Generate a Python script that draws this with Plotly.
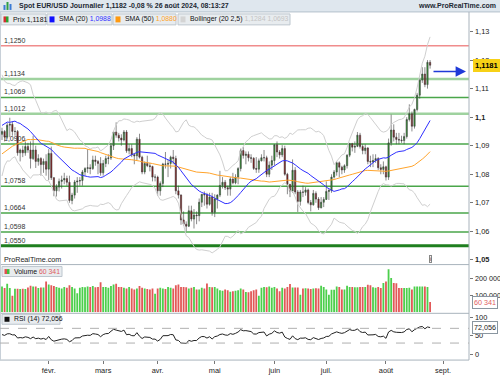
import plotly.graph_objects as go
import pandas as pd

W, H = 500, 375
FONT = "Liberation Sans, Arial, sans-serif"

# ---------------- data ----------------
# closes before the visible window (used only to seed the indicators)
pre_closes = [1.0565, 1.0615, 1.0575, 1.0570, 1.0620, 1.0728, 1.0720, 1.0700, 1.0710, 1.0667,
              1.0685, 1.0700, 1.0880, 1.0848, 1.0850, 1.0913, 1.0940, 1.0908, 1.0888, 1.0903,
              1.0940, 1.0955, 1.0995, 1.0970, 1.0888, 1.0883, 1.0835, 1.0797, 1.0765, 1.0790,
              1.0760, 1.0763, 1.0795, 1.0875, 1.0990, 1.0895, 1.0923, 1.0980, 1.0943, 1.1010,
              1.1012, 1.1020, 1.1040, 1.1105, 1.1060, 1.1038, 1.1040, 1.0940, 1.0922, 1.0945,
              1.0940]

dates = pd.bdate_range("2024-01-08", "2024-08-26")

opens = [
    # Jan
    1.0940, 1.0950, 1.0930, 1.0972, 1.0975, 1.0950, 1.0950, 1.0875, 1.0885, 1.0875,
    1.0897, 1.0885, 1.0855, 1.0885, 1.0845, 1.0855, 1.0834, 1.0845,
    # Feb
    1.0818, 1.0873, 1.0788, 1.0742, 1.0755, 1.0775, 1.0780, 1.0785, 1.0772, 1.0708,
    1.0727, 1.0773, 1.0776, 1.0778, 1.0808, 1.0820, 1.0823, 1.0820, 1.0850, 1.0845, 1.0838,
    # Mar
    1.0805, 1.0838, 1.0855, 1.0857, 1.0900, 1.0948, 1.0937, 1.0927, 1.0920, 1.0948,
    1.0882, 1.0890, 1.0868, 1.0865, 1.0923, 1.0860, 1.0808, 1.0838, 1.0830, 1.0827, 1.0790,
    # Apr
    1.0790, 1.0742, 1.0768, 1.0836, 1.0835, 1.0838, 1.0860, 1.0855, 1.0742, 1.0727,
    1.0640, 1.0625, 1.0618, 1.0672, 1.0643, 1.0657, 1.0655, 1.0702, 1.0730, 1.0728, 1.0695, 1.0720,
    # May
    1.0667, 1.0713, 1.0727, 1.0761, 1.0772, 1.0753, 1.0748, 1.0783, 1.0770, 1.0790,
    1.0820, 1.0883, 1.0866, 1.0870, 1.0858, 1.0856, 1.0820, 1.0818, 1.0847, 1.0858, 1.0858, 1.0800, 1.0832,
    # Jun
    1.0848, 1.0903, 1.0878, 1.0868, 1.0890, 1.0800, 1.0765, 1.0741, 1.0814, 1.0738,
    1.0705, 1.0738, 1.0737, 1.0745, 1.0701, 1.0693, 1.0733, 1.0713, 1.0683, 1.0702,
    # Jul
    1.0712, 1.0740, 1.0743, 1.0790, 1.0808, 1.0840, 1.0825, 1.0815, 1.0830, 1.0867,
    1.0907, 1.0895, 1.0898, 1.0937, 1.0897, 1.0883, 1.0892, 1.0845, 1.0843, 1.0848, 1.0855, 1.0823, 1.0817,
    # Aug
    1.0826, 1.0790, 1.0910, 1.0955, 1.0930, 1.0922, 1.0920, 1.0918, 1.0932, 1.0992,
    1.1012, 1.0968, 1.1027, 1.1077, 1.1130, 1.1151, 1.1114, 1.1192]

highs = [
    1.0963, 1.0955, 1.0980, 1.0998, 1.0985, 1.0965, 1.0955, 1.0890, 1.0900, 1.0915,
    1.0910, 1.0915, 1.0935, 1.0900, 1.0870, 1.0860, 1.0855, 1.0870,
    1.0888, 1.0897, 1.0790, 1.0765, 1.0785, 1.0795, 1.0805, 1.0795, 1.0795, 1.0735,
    1.0780, 1.0790, 1.0790, 1.0815, 1.0825, 1.0888, 1.0835, 1.0865, 1.0865, 1.0850, 1.0860,
    1.0850, 1.0865, 1.0870, 1.0910, 1.0950, 1.0982, 1.0945, 1.0940, 1.0955, 1.0955,
    1.0905, 1.0905, 1.0875, 1.0930, 1.0942, 1.0865, 1.0845, 1.0865, 1.0840, 1.0830, 1.0800,
    1.0795, 1.0775, 1.0840, 1.0878, 1.0850, 1.0865, 1.0885, 1.0865, 1.0760, 1.0730,
    1.0670, 1.0635, 1.0690, 1.0690, 1.0678, 1.0670, 1.0715, 1.0730, 1.0740, 1.0735, 1.0735, 1.0735,
    1.0730, 1.0730, 1.0812, 1.0790, 1.0780, 1.0760, 1.0790, 1.0805, 1.0800, 1.0825,
    1.0890, 1.0895, 1.0880, 1.0880, 1.0870, 1.0860, 1.0860, 1.0855, 1.0870, 1.0885, 1.0865, 1.0845, 1.0865,
    1.0905, 1.0915, 1.0885, 1.0902, 1.0900, 1.0805, 1.0765, 1.0852, 1.0825, 1.0745,
    1.0745, 1.0760, 1.0755, 1.0750, 1.0710, 1.0745, 1.0740, 1.0720, 1.0720, 1.0720,
    1.0775, 1.0750, 1.0800, 1.0815, 1.0845, 1.0845, 1.0830, 1.0835, 1.0870, 1.0910,
    1.0910, 1.0915, 1.0948, 1.0945, 1.0905, 1.0905, 1.0895, 1.0865, 1.0870, 1.0870, 1.0860, 1.0835, 1.0845,
    1.0830, 1.0925, 1.1009, 1.0975, 1.0945, 1.0945, 1.0935, 1.0945, 1.1000, 1.1045,
    1.1020, 1.1030, 1.1085, 1.1135, 1.1175, 1.1175, 1.1200, 1.1200]

lows = [
    1.0920, 1.0915, 1.0922, 1.0930, 1.0935, 1.0935, 1.0865, 1.0845, 1.0860, 1.0865,
    1.0875, 1.0820, 1.0850, 1.0822, 1.0830, 1.0795, 1.0805, 1.0795,
    1.0780, 1.0780, 1.0723, 1.0722, 1.0740, 1.0750, 1.0765, 1.0760, 1.0700, 1.0695,
    1.0715, 1.0735, 1.0760, 1.0760, 1.0795, 1.0805, 1.0800, 1.0815, 1.0830, 1.0800, 1.0795,
    1.0795, 1.0825, 1.0835, 1.0850, 1.0885, 1.0928, 1.0915, 1.0900, 1.0915, 1.0875,
    1.0870, 1.0860, 1.0835, 1.0850, 1.0855, 1.0800, 1.0800, 1.0825, 1.0810, 1.0775, 1.0775,
    1.0725, 1.0725, 1.0755, 1.0820, 1.0790, 1.0820, 1.0835, 1.0730, 1.0715, 1.0623,
    1.0620, 1.0601, 1.0615, 1.0635, 1.0610, 1.0625, 1.0635, 1.0685, 1.0690, 1.0680, 1.0690, 1.0655,
    1.0650, 1.0680, 1.0720, 1.0750, 1.0745, 1.0725, 1.0725, 1.0765, 1.0765, 1.0765,
    1.0810, 1.0855, 1.0835, 1.0845, 1.0840, 1.0815, 1.0805, 1.0805, 1.0845, 1.0845, 1.0790, 1.0790, 1.0815,
    1.0830, 1.0860, 1.0855, 1.0860, 1.0795, 1.0730, 1.0720, 1.0735, 1.0730, 1.0668,
    1.0690, 1.0720, 1.0725, 1.0695, 1.0670, 1.0690, 1.0700, 1.0675, 1.0680, 1.0685,
    1.0710, 1.0710, 1.0735, 1.0785, 1.0795, 1.0790, 1.0800, 1.0805, 1.0820, 1.0860,
    1.0880, 1.0875, 1.0895, 1.0890, 1.0870, 1.0870, 1.0835, 1.0825, 1.0825, 1.0840, 1.0815, 1.0800, 1.0800,
    1.0778, 1.0780, 1.0900, 1.0915, 1.0905, 1.0905, 1.0910, 1.0905, 1.0925, 1.0985,
    1.0950, 1.0960, 1.1020, 1.1065, 1.1120, 1.1105, 1.1100, 1.1170]

closes = [
    1.0950, 1.0930, 1.0972, 1.0975, 1.0950, 1.0950, 1.0875, 1.0885, 1.0875, 1.0897,
    1.0885, 1.0855, 1.0885, 1.0845, 1.0855, 1.0834, 1.0845, 1.0818,
    1.0873, 1.0788, 1.0742, 1.0755, 1.0775, 1.0780, 1.0785, 1.0772, 1.0708, 1.0727,
    1.0773, 1.0776, 1.0778, 1.0808, 1.0820, 1.0823, 1.0820, 1.0850, 1.0845, 1.0838, 1.0805,
    1.0838, 1.0855, 1.0857, 1.0900, 1.0948, 1.0937, 1.0927, 1.0920, 1.0948, 1.0882,
    1.0890, 1.0868, 1.0865, 1.0923, 1.0860, 1.0808, 1.0838, 1.0830, 1.0827, 1.0790, 1.0790,
    1.0742, 1.0768, 1.0836, 1.0835, 1.0838, 1.0860, 1.0855, 1.0742, 1.0727, 1.0640,
    1.0625, 1.0618, 1.0672, 1.0643, 1.0657, 1.0655, 1.0702, 1.0730, 1.0728, 1.0695, 1.0720, 1.0667,
    1.0713, 1.0727, 1.0761, 1.0772, 1.0753, 1.0748, 1.0783, 1.0770, 1.0790, 1.0820,
    1.0883, 1.0866, 1.0870, 1.0858, 1.0856, 1.0820, 1.0818, 1.0847, 1.0858, 1.0858, 1.0800, 1.0832, 1.0848,
    1.0903, 1.0878, 1.0868, 1.0890, 1.0800, 1.0765, 1.0741, 1.0814, 1.0738, 1.0705,
    1.0738, 1.0737, 1.0745, 1.0701, 1.0693, 1.0733, 1.0713, 1.0683, 1.0702, 1.0712,
    1.0740, 1.0743, 1.0790, 1.0808, 1.0840, 1.0825, 1.0815, 1.0830, 1.0867, 1.0907,
    1.0895, 1.0898, 1.0937, 1.0897, 1.0883, 1.0892, 1.0845, 1.0843, 1.0848, 1.0855, 1.0823, 1.0817, 1.0826,
    1.0790, 1.0910, 1.0955, 1.0930, 1.0922, 1.0920, 1.0918, 1.0932, 1.0992, 1.1012,
    1.0968, 1.1027, 1.1077, 1.1130, 1.1151, 1.1114, 1.1192, 1.1182]

volumes = [
    153000, 143000, 169000, 143000, 98000, 139000, 139000, 137000, 139000, 137000,
    147000, 157000, 153000, 153000, 143000, 147000, 147000, 182000, 165000, 160000,
    155000, 150000, 145000, 140000, 150000, 145000, 160000, 150000, 140000, 112000,
    145000, 150000, 148000, 152000, 150000, 155000, 148000, 150000, 178000, 150000,
    150000, 145000, 155000, 165000, 168000, 150000, 150000, 145000, 140000, 150000,
    140000, 135000, 140000, 155000, 145000, 140000, 138000, 135000, 140000, 110000,
    140000, 145000, 140000, 138000, 150000, 145000, 140000, 160000, 165000, 150000,
    150000, 148000, 140000, 145000, 150000, 135000, 135000, 145000, 140000, 170000,
    150000, 148000, 150000, 140000, 130000, 128000, 135000, 130000, 122000, 125000,
    128000, 130000, 140000, 135000, 120000, 118000, 125000, 130000, 135000, 98000,
    145000, 150000, 148000, 152000, 145000, 150000, 141000, 124000, 145000, 140000,
    150000, 167000, 147000, 147000, 147000, 104000, 140000, 142000, 140000, 138000,
    140000, 142000, 140000, 157000, 150000, 135000, 104000, 133000, 133000, 153000,
    150000, 135000, 135000, 157000, 150000, 150000, 148000, 148000, 150000, 150000,
    150000, 163000, 160000, 148000, 145000, 150000, 143000, 173000, 182000, 255000,
    202000, 173000, 172000, 143000, 143000, 143000, 143000, 145000, 135000, 153000,
    153000, 153000, 153000, 153000, 150000, 60341]

levels = [1.1250, 1.1134, 1.1069, 1.1012, 1.0906, 1.0758, 1.0664, 1.0598, 1.0550]
level_labels = ["1,1250", "1,1134", "1,1069", "1,1012", "1,0906", "1,0758", "1,0664", "1,0598", "1,0550"]
level_colors = ["#f08c8c", "#9fd29f", "#4aa64a", "#9fd29f", "#4aa64a", "#4aa64a", "#4aa64a", "#4aa64a", "#1f7f1f"]
level_widths = [1.5, 2.5, 1.5, 2.5, 1.5, 1.5, 1.5, 1.5, 3]
arrow_level = 1.1160

price_ticks = [1.05, 1.06, 1.07, 1.08, 1.09, 1.10, 1.11, 1.12, 1.13]
price_tick_labels = ["<b>1,05</b>", "1,06", "1,07", "1,08", "1,09", "<b>1,1</b>", "1,11", "1,12", "1,13"]
vol_ticks = [100000, 200000]
vol_tick_labels = ["100 000", "200 000"]
rsi_ticks = [0, 50, 100]
rsi_tick_labels = ["0", "50", "100"]
month_ticks = ["2024-02-01", "2024-03-01", "2024-04-01", "2024-05-01", "2024-06-03",
               "2024-07-01", "2024-08-01", "2024-09-02"]
month_labels = ["févr.", "mars", "avr.", "mai", "juin", "juil.", "août", "sept."]

title_text = "Spot EUR/USD Journalier 1,1182 -0,08 % 26 août 2024, 08:13:27"
last_price_text = "1,1181"
last_vol_text = "60 341"
last_rsi_text = "72,056"

assert len(dates) == len(opens) == len(highs) == len(lows) == len(closes) == len(volumes)

# ---------------- indicators ----------------
n_pre = len(pre_closes)
allc = pd.Series(pre_closes + closes)
sma20 = allc.rolling(20).mean()
sma50 = allc.rolling(50).mean()
sd20 = allc.rolling(20).std(ddof=0)
bb_up = (sma20 + 2.5 * sd20).iloc[n_pre:].values
bb_lo = (sma20 - 2.5 * sd20).iloc[n_pre:].values
delta = allc.diff()
gain = delta.clip(lower=0).ewm(alpha=1 / 14, adjust=False).mean()
loss = (-delta.clip(upper=0)).ewm(alpha=1 / 14, adjust=False).mean()
rsi = (100 - 100 / (1 + gain / loss)).iloc[n_pre:].values
sma20v = sma20.iloc[n_pre:].values
sma50v = sma50.iloc[n_pre:].values

vol_colors = ["#4ccf4c" if c >= o else "#e25858" for o, c in zip(opens, closes)]


def px(x):
    return x / W


def py(y):
    return 1 - y / H


fig = go.Figure()

fig.add_trace(go.Scatter(x=dates, y=bb_up, mode="lines", line=dict(color="#cfcfcf", width=1), yaxis="y"))
fig.add_trace(go.Scatter(x=dates, y=bb_lo, mode="lines", line=dict(color="#cfcfcf", width=1), yaxis="y"))
fig.add_trace(go.Candlestick(
    x=dates, open=opens, high=highs, low=lows, close=closes, yaxis="y",
    increasing=dict(line=dict(color="#3d3d3d", width=0.6), fillcolor="#2f9a2f"),
    decreasing=dict(line=dict(color="#3d3d3d", width=0.6), fillcolor="#901515"),
    whiskerwidth=0))
fig.add_trace(go.Scatter(x=dates, y=sma50v, mode="lines", line=dict(color="#ffa42c", width=1), yaxis="y"))
fig.add_trace(go.Scatter(x=dates, y=sma20v, mode="lines", line=dict(color="#2f2fff", width=1), yaxis="y"))
fig.add_trace(go.Bar(x=dates, y=volumes, marker=dict(color=vol_colors, line=dict(width=0)), yaxis="y2"))
fig.add_trace(go.Scatter(x=dates, y=rsi, mode="lines", line=dict(color="#222222", width=1), yaxis="y3"))

shapes = []
annotations = []

# title bar
shapes.append(dict(type="rect", xref="paper", yref="paper", x0=0, x1=1, y0=py(12), y1=1,
                   fillcolor="#dfe7ee", line=dict(width=0), layer="below"))
shapes.append(dict(type="line", xref="paper", yref="paper", x0=0, x1=1, y0=py(12), y1=py(12),
                   line=dict(color="#b4c0cb", width=1)))
for bx, bh, col in [(3.5, 5, "#3a7bd5"), (6.5, 8, "#2f9e44"), (9.5, 6, "#3a7bd5")]:
    shapes.append(dict(type="rect", xref="paper", yref="paper", x0=px(bx), x1=px(bx + 2),
                       y0=py(10), y1=py(10 - bh), fillcolor=col, line=dict(width=0)))
annotations.append(dict(xref="paper", yref="paper", x=px(17), y=py(6), xanchor="left", yanchor="middle",
                        text="<b>" + title_text + "</b>", showarrow=False,
                        font=dict(size=7.0, color="#1c2733", family=FONT)))
annotations.append(dict(xref="paper", yref="paper", x=px(498), y=py(6), xanchor="right", yanchor="middle",
                        text="<b>www.ProRealTime.com</b>", showarrow=False,
                        font=dict(size=7.0, color="#1c2733", family=FONT)))

# panel frame lines
for yy in [266, 315, 362]:
    shapes.append(dict(type="line", xref="paper", yref="paper", x0=0, x1=px(469), y0=py(yy), y1=py(yy),
                       line=dict(color="#a9b3bc", width=1)))
shapes.append(dict(type="line", xref="paper", yref="paper", x0=px(469), x1=px(469), y0=py(12), y1=py(362),
                   line=dict(color="#a9b3bc", width=1)))
shapes.append(dict(type="line", xref="paper", yref="paper", x0=px(0.5), x1=px(0.5), y0=py(12), y1=py(362),
                   line=dict(color="#c8d0d8", width=1)))

# horizontal levels
for lv, lab, col, wd in zip(levels, level_labels, level_colors, level_widths):
    shapes.append(dict(type="line", xref="x domain", yref="y", x0=0, x1=1, y0=lv, y1=lv,
                       line=dict(color=col, width=wd), layer="below"))
    annotations.append(dict(xref="paper", yref="y", x=px(2), y=lv, xanchor="left", yanchor="bottom",
                            text=lab, showarrow=False, yshift=0,
                            font=dict(size=7.0, color="#333333", family=FONT)))

# RSI 70/30 dashed
for lv in [70, 30]:
    shapes.append(dict(type="line", xref="x domain", yref="y3", x0=0, x1=1, y0=lv, y1=lv,
                       line=dict(color="#b0b0b0", width=1, dash="dash")))


# legend boxes
def legend_box(x0, x1, y0, y1, text, icon_colors):
    shapes.append(dict(type="rect", xref="paper", yref="paper", x0=px(x0), x1=px(x1), y0=py(y1), y1=py(y0),
                       fillcolor="#e8ecef", line=dict(color="#bcc6ce", width=1)))
    ix = x0 + 2.5
    iw = 5.0 / len(icon_colors)
    for k, c in enumerate(icon_colors):
        shapes.append(dict(type="rect", xref="paper", yref="paper", x0=px(ix + k * iw), x1=px(ix + (k + 1) * iw),
                           y0=py(y1 - 2.5), y1=py(y0 + 2.5), fillcolor=c, line=dict(width=0)))
    annotations.append(dict(xref="paper", yref="paper", x=px(x0 + 10), y=py((y0 + y1) / 2), xanchor="left",
                            yanchor="middle", text=text, showarrow=False,
                            font=dict(size=6.9, color="#111111", family=FONT)))


legend_box(1, 46, 14, 25, "Prix 1,1181", ["#d03030", "#30a030"])
legend_box(47, 112, 14, 25, "SMA (20) <span style='color:#2f2fff'>1,0988</span>", ["#1010ff"])
legend_box(113, 176, 14, 25, "SMA (50) <span style='color:#ffa42c'>1,0880</span>", ["#ff9a10"])
legend_box(178, 290, 14, 25, "Bollinger (20 2,5) <span style='color:#c4c4c4'>1,1284 1,0693</span>", ["#d4d4d4"])
legend_box(2, 62, 268, 278, "Volume <span style='color:#e06060'>" + last_vol_text + "</span>", ["#e05050", "#40c040"])
legend_box(2, 60, 316, 326, "RSI (14) " + last_rsi_text, ["#111111"])

annotations.append(dict(xref="paper", yref="paper", x=px(2), y=py(261), xanchor="left", yanchor="middle",
                        text="ProRealTime.com", showarrow=False, font=dict(size=7.2, color="#222222", family=FONT)))
annotations.append(dict(xref="paper", yref="paper", x=px(430), y=py(260), xanchor="center", yanchor="middle",
                        text="i", showarrow=False, bordercolor="#888888", borderwidth=1, borderpad=0,
                        bgcolor="#f4f4f4", font=dict(size=6, color="#333333", family=FONT)))

# right-axis tick labels (as text, placed next to the tick marks)
for tv, tt in zip(price_ticks, price_tick_labels):
    annotations.append(dict(xref="paper", yref="y", x=px(473), y=tv, xanchor="left", yanchor="middle",
                            text=tt, showarrow=False, font=dict(size=7.4, color="#222222", family=FONT)))
for tv, tt in zip(vol_ticks, vol_tick_labels):
    annotations.append(dict(xref="paper", yref="y2", x=px(473), y=tv, xanchor="left", yanchor="middle",
                            text=tt, showarrow=False, font=dict(size=7.2, color="#222222", family=FONT)))
for tv, tt in zip(rsi_ticks, rsi_tick_labels):
    annotations.append(dict(xref="paper", yref="y3", x=px(473), y=tv, xanchor="left", yanchor="middle",
                            text=tt, showarrow=False, font=dict(size=7.4, color="#222222", family=FONT)))

# right-axis value boxes
annotations.append(dict(xref="paper", yref="y", x=px(472.5), y=closes[-1] - 0.0001, xanchor="left", yanchor="middle",
                        text="<b>" + last_price_text + "</b>", showarrow=False, bgcolor="#f7d117",
                        bordercolor="#f7d117", borderwidth=1, borderpad=1,
                        font=dict(size=7.6, color="#000000", family=FONT)))
annotations.append(dict(xref="paper", yref="y2", x=px(472), y=volumes[-1], xanchor="left", yanchor="middle",
                        text=last_vol_text, showarrow=False, bgcolor="#ffffff",
                        bordercolor="#8a96a0", borderwidth=1, borderpad=1,
                        font=dict(size=7.2, color="#e06060", family=FONT)))
annotations.append(dict(xref="paper", yref="y3", x=px(472), y=rsi[-1], xanchor="left", yanchor="middle",
                        text=last_rsi_text, showarrow=False, bgcolor="#ffffff",
                        bordercolor="#8a96a0", borderwidth=1, borderpad=1,
                        font=dict(size=7.2, color="#222222", family=FONT)))

# blue arrow
annotations.append(dict(xref="paper", yref="y", x=px(466), y=arrow_level, ax=-34, ay=0,
                        showarrow=True, arrowhead=2, arrowsize=1.6, arrowwidth=1.3, arrowcolor="#1f3ad8",
                        text=""))

yaxis_common = dict(side="right", anchor="x", showgrid=False, zeroline=False, ticks="outside", ticklen=3,
                    tickcolor="#777777", showline=False, showticklabels=False, fixedrange=True)

fig.update_layout(
    width=W, height=H, margin=dict(l=0, r=0, t=0, b=0),
    paper_bgcolor="#ffffff", plot_bgcolor="#ffffff",
    showlegend=False, bargap=0.3, hovermode=False,
    font=dict(family=FONT, size=7.4, color="#222222"),
    xaxis=dict(domain=[0, px(469)], anchor="y3", type="date",
               range=["2024-01-05 05:30", "2024-09-16"],
               rangebreaks=[dict(bounds=["sat", "mon"])],
               rangeslider=dict(visible=False), fixedrange=True,
               tickvals=month_ticks, ticktext=month_labels, ticks="outside", ticklen=3,
               tickcolor="#777777", showgrid=False, zeroline=False, showline=False,
               tickfont=dict(size=7.4, color="#222222", family=FONT)),
    yaxis=dict(domain=[py(265), py(12)], range=[1.04871, 1.13686], tickvals=price_ticks, **yaxis_common),
    yaxis2=dict(domain=[py(314), py(267)], range=[0, 276000], tickvals=vol_ticks, **yaxis_common),
    yaxis3=dict(domain=[py(362), py(315)], range=[-16.2, 110.8], tickvals=rsi_ticks, **yaxis_common),
    shapes=shapes, annotations=annotations,
)

fig.write_html("out.html", config={"displayModeBar": False, "staticPlot": True},
               post_script="document.body.style.margin='0px';document.body.style.overflow='hidden';")
